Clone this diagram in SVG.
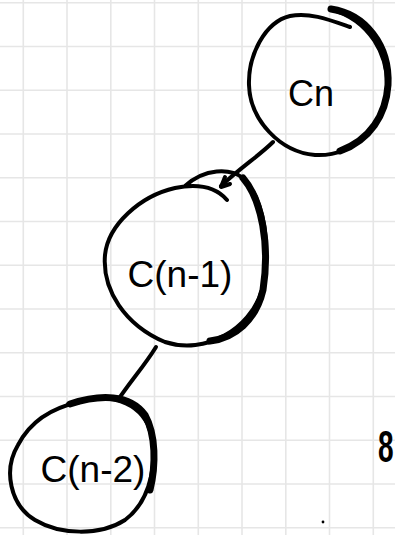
<svg xmlns="http://www.w3.org/2000/svg" width="395" height="535" viewBox="0 0 395 535">
<style>
.grid line{stroke:#e6e6e6;stroke-width:1.6}
.ink{fill:none;stroke:#000;stroke-width:4;stroke-linecap:round;stroke-linejoin:round}
.thick{fill:none;stroke:#000;stroke-width:7;stroke-linecap:round}
.lbl{font-family:"Liberation Sans",Arial,sans-serif;fill:#000;text-anchor:middle}
</style>
<rect width="395" height="535" fill="#fff"/>
<g class="grid">
<line x1="23.3" y1="0" x2="23.3" y2="535"/>
<line x1="67" y1="0" x2="67" y2="535"/>
<line x1="110.8" y1="0" x2="110.8" y2="535"/>
<line x1="154.5" y1="0" x2="154.5" y2="535"/>
<line x1="198.3" y1="0" x2="198.3" y2="535"/>
<line x1="242" y1="0" x2="242" y2="535"/>
<line x1="285.8" y1="0" x2="285.8" y2="535"/>
<line x1="329.5" y1="0" x2="329.5" y2="535"/>
<line x1="373.3" y1="0" x2="373.3" y2="535"/>
<line x1="0" y1="2.7" x2="395" y2="2.7"/>
<line x1="0" y1="46.5" x2="395" y2="46.5"/>
<line x1="0" y1="90.2" x2="395" y2="90.2"/>
<line x1="0" y1="134" x2="395" y2="134"/>
<line x1="0" y1="177.7" x2="395" y2="177.7"/>
<line x1="0" y1="221.5" x2="395" y2="221.5"/>
<line x1="0" y1="265.2" x2="395" y2="265.2"/>
<line x1="0" y1="309" x2="395" y2="309"/>
<line x1="0" y1="352.7" x2="395" y2="352.7"/>
<line x1="0" y1="396.5" x2="395" y2="396.5"/>
<line x1="0" y1="440.2" x2="395" y2="440.2"/>
<line x1="0" y1="484" x2="395" y2="484"/>
<line x1="0" y1="527.7" x2="395" y2="527.7"/>
</g>
<g id="connectors">
<path class="ink" d="M273,142 C260,155 240,168 221,186"/>
<path class="ink" d="M225,177 L221,187 L230,184"/>
<path class="ink" d="M156,347 C145,365 130,382 118,400"/>
</g>
<g id="node-cn">
<path class="ink" d="M350,27 C330,20 310,12 290,16 C265,22 248,55 249,85 C250,120 280,152 315,155 C355,157 385,125 387,90 C389,55 370,20 330,9"/>
<path class="thick" d="M331,9 C365,14 390,45 388,85 C386,115 370,140 340,151"/>
<text class="lbl" x="311" y="106" font-size="36">Cn</text>
</g>
<g id="node-cn1">
<path class="ink" d="M227,200 C215,186 195,184 175,188 C140,196 108,225 105,255 C102,290 125,325 165,342 C205,355 250,330 262,290 C272,250 265,200 243,178 C230,168 205,168 185,186"/>
<path class="thick" d="M243,178 C262,200 270,245 263,290 C256,320 235,338 210,341"/>
<text class="lbl" x="180" y="287" font-size="37">C(n-1)</text>
</g>
<g id="node-cn2">
<path class="ink" d="M68,404 C100,392 135,398 148,425 C160,455 152,500 125,520 C100,536 60,535 35,520 C10,505 3,470 18,445 C30,422 50,408 80,402"/>
<path class="thick" d="M70,404 C100,394 130,394 145,415 C156,435 156,465 150,490"/>
<text class="lbl" x="93" y="482" font-size="37">C(n-2)</text>
</g>
<text class="lbl" transform="translate(378,462) scale(1,1.6)" font-size="28" font-weight="bold" style="text-anchor:start">8</text>
<circle cx="323" cy="522" r="1.4" fill="#000"/>
</svg>
